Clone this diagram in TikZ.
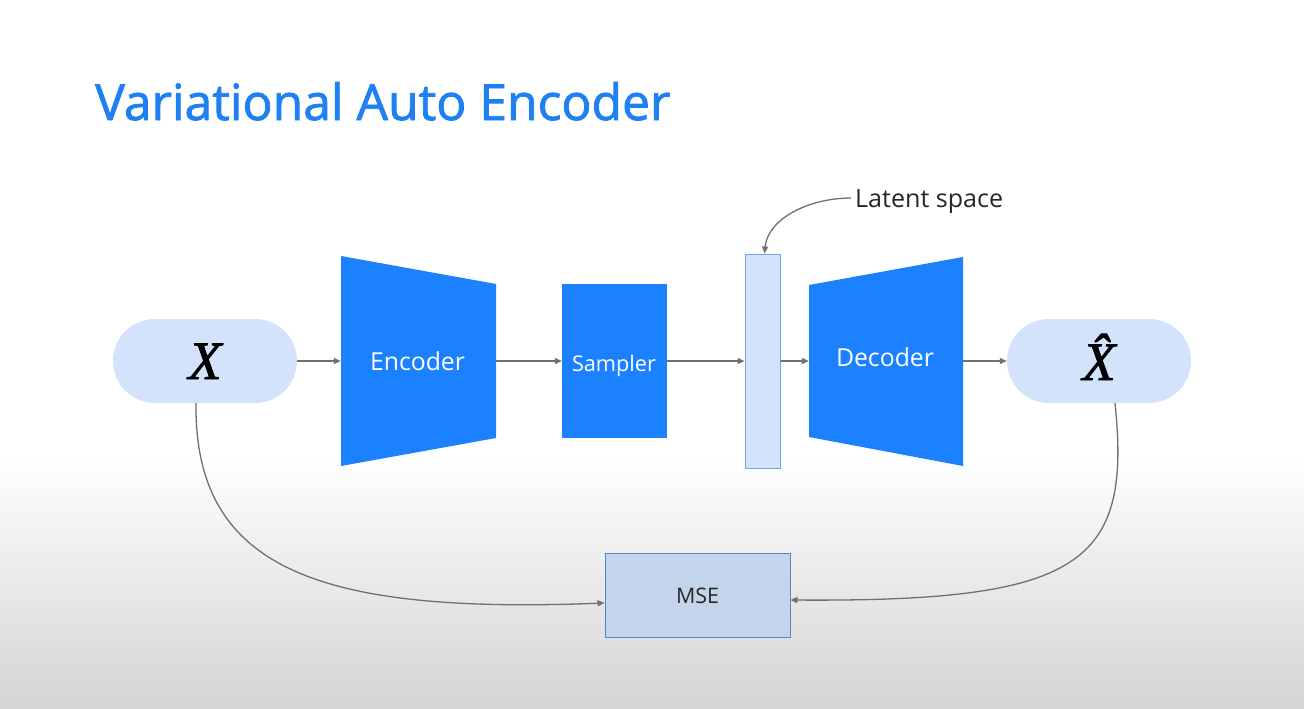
\documentclass[tikz,border=0pt]{standalone}
\usepackage{fontspec}
\usepackage{graphicx}
\usetikzlibrary{arrows.meta}
\newfontfamily\gs{Open Sans}
\newfontfamily\gsm{Open Sans}[FakeBold=1.6]
\newfontfamily\xf{Liberation Serif}[ItalicFeatures={FakeBold=1.5}]
\definecolor{vblue}{RGB}{27,129,255}
\definecolor{tblue}{RGB}{30,128,242}
\definecolor{lblue}{RGB}{211,227,252}
\definecolor{lborder}{RGB}{110,165,240}
\definecolor{msefill}{RGB}{196,212,234}
\definecolor{mseborder}{RGB}{75,135,215}
\definecolor{arrowgray}{RGB}{112,112,112}
\definecolor{bggray}{RGB}{212,212,212}
\newcommand{\fitw}[2]{\resizebox{#1}{!}{#2}}
\begin{document}
\begin{tikzpicture}[x=1pt,y=-1pt,
  conn/.style={draw=arrowgray,line width=1.4pt,-{Triangle[length=7pt,width=6pt]}},
  curveconn/.style={draw=arrowgray,line width=1.3pt,-{Triangle[length=7pt,width=6pt]}},
  pill/.style={fill=lblue,rounded corners=42pt,minimum width=184pt,minimum height=84pt,inner sep=0pt},
  blockarea/.style={minimum width=#1,minimum height=154pt,inner sep=0pt},
  wlabel/.style={text=white,inner sep=0pt},
  dlabel/.style={text=black!85,inner sep=0pt}]
\useasboundingbox (0,0) rectangle (1304,709);
% background
\fill[white] (0,0) rectangle (1304,460);
\shade[top color=white,bottom color=bggray] (0,455) rectangle (1304,709);

% title
\node[anchor=base west,inner sep=0pt,text=tblue] (title) at (95,120) {\fitw{575pt}{\gsm Variational Auto Encoder}};

% input / output pills
\node[pill] (x) at (205,361) {};
\node[anchor=base,inner sep=0pt] (xlab) at (205,379) {\fontsize{54}{54}\selectfont\xf\itshape X};
\node[pill] (xh) at (1099,361) {};
\node[anchor=base,inner sep=0pt] (xhlab) at (1099,380) {\fontsize{54}{54}\selectfont\xf\itshape \^{X}};

% encoder
\node[blockarea=155pt] (enc) at (418.5,361) {};
\fill[vblue] (341,256) -- (496,284) -- (496,438) -- (341,466) -- cycle;
\node[wlabel,anchor=base] (enclab) at (417.5,370) {\fitw{95pt}{\gs Encoder}};

% sampler
\node[fill=vblue,minimum width=105pt,minimum height=154pt,inner sep=0pt] (samp) at (614.5,361) {};
\node[wlabel,anchor=base] (samplab) at (614,371) {\fitw{84pt}{\gs Sampler}};

% latent
\node[fill=lblue,draw=lborder,line width=1pt,minimum width=35pt,minimum height=214pt,inner sep=0pt] (lat) at (762.5,361) {};

% decoder
\node[blockarea=154pt] (dec) at (886,361) {};
\fill[vblue] (809,285) -- (963,257) -- (963,466) -- (809,437) -- cycle;
\node[wlabel,anchor=base] (declab) at (885,366) {\fitw{98pt}{\gs Decoder}};

% latent space label
\node[dlabel,anchor=base west] (latlab) at (855,207) {\fitw{148pt}{\gs Latent space}};
\coordinate (latstart) at (851,198);

% MSE
\node[fill=msefill,draw=mseborder,line width=1pt,minimum width=185pt,minimum height=84pt,inner sep=0pt] (mse) at (697.5,595) {};
\node[dlabel,anchor=base] (mselab) at (697.5,603) {\fitw{43pt}{\gs MSE}};

% connectors
\draw[conn] (x.east) -- (enc.west);
\draw[conn] (enc.east) -- (samp.west);
\draw[conn] (samp.east) -- (lat.west);
\draw[conn] (lat.east) -- (dec.west);
\draw[conn] (dec.east) -- (xh.west);
\draw[curveconn] (latstart) .. controls (810,198) and (768,218) .. ([xshift=2pt]lat.north);
\draw[curveconn] (196,403) .. controls (194,570) and (320,614) .. ([yshift=-8pt]mse.west);
\draw[curveconn] (1115,403) .. controls (1132,565) and (1080,602) .. ([yshift=-5pt]mse.east);
\end{tikzpicture}
\end{document}
